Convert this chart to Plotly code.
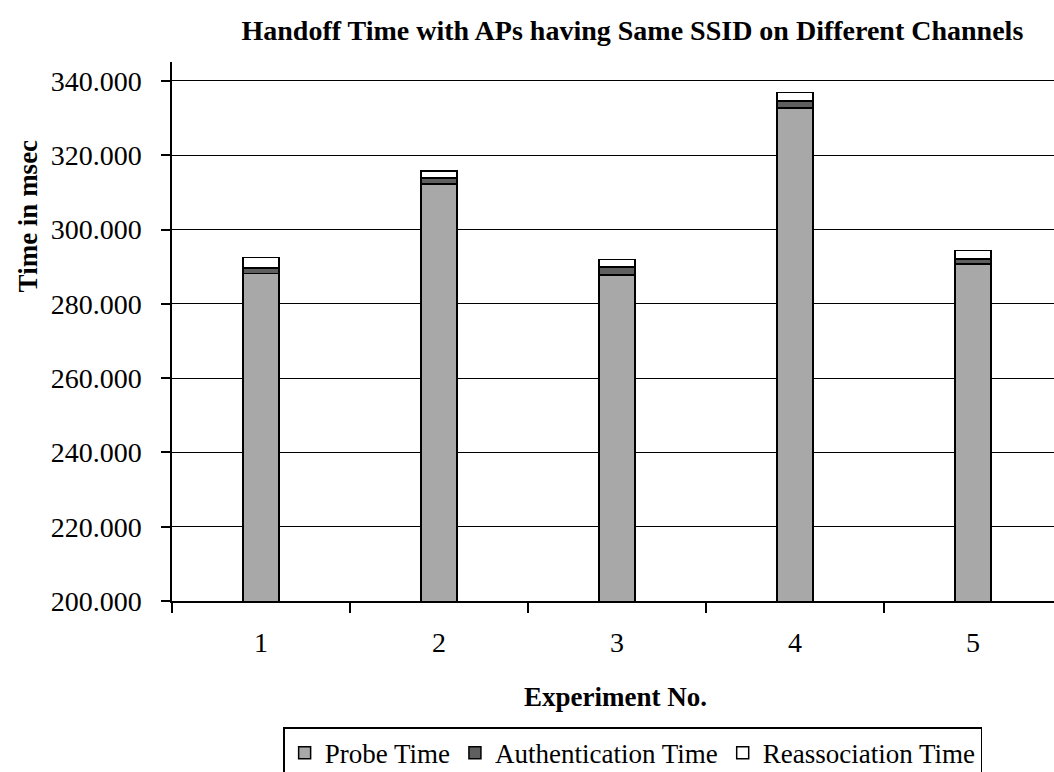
import plotly.graph_objects as go

experiments = ["1", "2", "3", "4", "5"]
probe_time = [288.2, 312.3, 287.8, 332.7, 290.7]
auth_time = [1.4, 1.6, 2.1, 1.9, 1.4]
reassoc_time = [2.9, 1.9, 2.1, 2.3, 2.2]

series = [
    ("Probe Time", probe_time, "#a8a8a8"),
    ("Authentication Time", auth_time, "#5f5f5f"),
    ("Reassociation Time", reassoc_time, "#ffffff"),
]

font_family = "Liberation Serif, Times New Roman, serif"

fig = go.Figure()
for name, vals, color in series:
    fig.add_trace(go.Bar(
        x=experiments, y=vals, name=name, width=0.2,
        marker=dict(color=color, line=dict(color="black", width=1.5)),
    ))

fig.update_layout(
    barmode="stack",
    width=1054, height=772,
    paper_bgcolor="white", plot_bgcolor="white",
    margin=dict(l=172, r=0, t=62, b=171, autoexpand=False),
    font=dict(family=font_family, color="black"),
    title=dict(text="<b>Handoff Time with APs having Same SSID on Different Channels</b>",
               x=0.600, xanchor="center", y=0.961, yanchor="middle",
               font=dict(size=28, family=font_family)),
    legend=dict(orientation="h", x=0.126, xanchor="left", y=-0.234, yanchor="top",
                bordercolor="black", borderwidth=1.5, font=dict(size=27),
                traceorder="normal", itemwidth=30),
    xaxis=dict(
        type="category", range=[-0.5, 4.455], tickson="boundaries",
        ticks="outside", ticklen=10, tickcolor="black", tickwidth=1.5,
        showline=True, linecolor="black", linewidth=1.5,
        tickfont=dict(size=28), ticklabelstandoff=16,
    ),
    yaxis=dict(
        range=[200, 345.1], dtick=20, tick0=200, tickformat=".3f",
        ticks="outside", ticklen=9, tickcolor="black", tickwidth=1.5,
        showline=True, linecolor="black", linewidth=1.5,
        showgrid=True, gridcolor="black", gridwidth=1.2,
        tickfont=dict(size=28), ticklabelstandoff=14,
    ),
    annotations=[
        dict(text="<b>Time in msec</b>", textangle=-90, xref="paper", yref="paper",
             x=-0.163, y=0.714, xanchor="center", yanchor="middle", showarrow=False,
             font=dict(size=27)),
        dict(text="<b>Experiment No.</b>", xref="paper", yref="paper",
             x=0.503, y=-0.178, xanchor="center", yanchor="middle", showarrow=False,
             font=dict(size=27)),
    ],
)

fig.write_html("out.html")
